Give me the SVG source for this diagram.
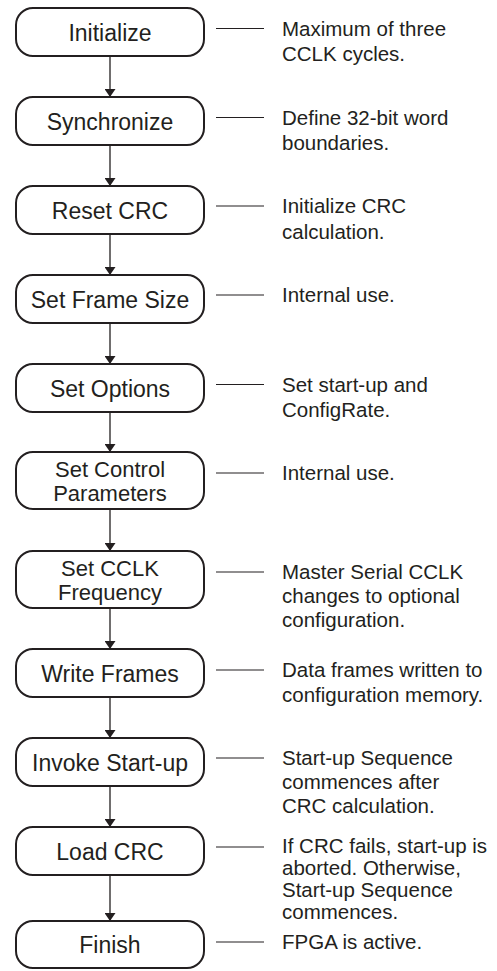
<svg xmlns="http://www.w3.org/2000/svg" width="497" height="971" viewBox="0 0 497 971">
<style>
.box{fill:#fff;stroke:#231f20;stroke-width:2}
.lbl{font-family:"Liberation Sans",Arial,sans-serif;font-size:23px;fill:#231f20;text-anchor:middle}
.lbl2{font-size:22px}
.note{font-family:"Liberation Sans",Arial,sans-serif;font-size:20.5px;fill:#231f20}
.flow{stroke:#231f20;stroke-width:1.3;fill:none}
.lead{stroke:#231f20;stroke-width:1.2;fill:none}
</style>
<defs>
<marker id="ah" viewBox="0 0 8 11" refX="8" refY="5.5" markerWidth="8" markerHeight="11" markerUnits="userSpaceOnUse" orient="auto-start-reverse">
<path d="M0,0 L8,5.5 L0,11 Z" fill="#231f20"/>
</marker>
</defs>
<rect width="497" height="971" fill="#fff"/>
<g id="connectors">
<line class="flow" x1="110" y1="56" x2="110" y2="97" marker-end="url(#ah)"/>
<line class="flow" x1="110" y1="145" x2="110" y2="186" marker-end="url(#ah)"/>
<line class="flow" x1="110" y1="234" x2="110" y2="275" marker-end="url(#ah)"/>
<line class="flow" x1="110" y1="323" x2="110" y2="364" marker-end="url(#ah)"/>
<line class="flow" x1="110" y1="412" x2="110" y2="452" marker-end="url(#ah)"/>
<line class="flow" x1="110" y1="509" x2="110" y2="551" marker-end="url(#ah)"/>
<line class="flow" x1="110" y1="608" x2="110" y2="649" marker-end="url(#ah)"/>
<line class="flow" x1="110" y1="697" x2="110" y2="738" marker-end="url(#ah)"/>
<line class="flow" x1="110" y1="786" x2="110" y2="827" marker-end="url(#ah)"/>
<line class="flow" x1="110" y1="875" x2="110" y2="921" marker-end="url(#ah)"/>
<line class="lead" x1="216" y1="28.5" x2="264" y2="28.5"/>
<line class="lead" x1="216" y1="117.5" x2="264" y2="117.5"/>
<line class="lead" x1="216" y1="206" x2="264" y2="206"/>
<line class="lead" x1="216" y1="295" x2="264" y2="295"/>
<line class="lead" x1="216" y1="384.5" x2="264" y2="384.5"/>
<line class="lead" x1="216" y1="473" x2="264" y2="473"/>
<line class="lead" x1="216" y1="572" x2="264" y2="572"/>
<line class="lead" x1="216" y1="670" x2="264" y2="670"/>
<line class="lead" x1="216" y1="758" x2="264" y2="758"/>
<line class="lead" x1="216" y1="847" x2="264" y2="847"/>
<line class="lead" x1="216" y1="942" x2="264" y2="942"/>
</g>
<g id="n1"><rect class="box" x="16" y="8" width="188" height="48" rx="17"/><text class="lbl" x="110" y="40.5">Initialize</text></g>
<g id="n2"><rect class="box" x="16" y="97" width="188" height="48" rx="17"/><text class="lbl" x="110" y="129.5">Synchronize</text></g>
<g id="n3"><rect class="box" x="16" y="186" width="188" height="48" rx="17"/><text class="lbl" x="110" y="218.5">Reset CRC</text></g>
<g id="n4"><rect class="box" x="16" y="275" width="188" height="48" rx="17"/><text class="lbl" x="110" y="307.5">Set Frame Size</text></g>
<g id="n5"><rect class="box" x="16" y="364" width="188" height="48" rx="17"/><text class="lbl" x="110" y="396.5">Set Options</text></g>
<g id="n6"><rect class="box" x="16" y="452" width="188" height="57" rx="17"/><text class="lbl lbl2" x="110" y="477">Set Control</text><text class="lbl lbl2" x="110" y="501">Parameters</text></g>
<g id="n7"><rect class="box" x="16" y="551" width="188" height="57" rx="17"/><text class="lbl lbl2" x="110" y="575.5">Set CCLK</text><text class="lbl lbl2" x="110" y="599.5">Frequency</text></g>
<g id="n8"><rect class="box" x="16" y="649" width="188" height="48" rx="17"/><text class="lbl" x="110" y="681.5">Write Frames</text></g>
<g id="n9"><rect class="box" x="16" y="738" width="188" height="48" rx="17"/><text class="lbl" x="110" y="770.5">Invoke Start-up</text></g>
<g id="n10"><rect class="box" x="16" y="827" width="188" height="48" rx="17"/><text class="lbl" x="110" y="859.5">Load CRC</text></g>
<g id="n11"><rect class="box" x="16" y="921" width="188" height="47" rx="17"/><text class="lbl" x="110" y="953">Finish</text></g>
<g id="notes">
<text class="note" x="282" y="35.5">Maximum of three</text>
<text class="note" x="282" y="61">CCLK cycles.</text>
<text class="note" x="282" y="124.5">Define 32-bit word</text>
<text class="note" x="282" y="150">boundaries.</text>
<text class="note" x="282" y="213">Initialize CRC</text>
<text class="note" x="282" y="238.5">calculation.</text>
<text class="note" x="282" y="302">Internal use.</text>
<text class="note" x="282" y="391.5">Set start-up and</text>
<text class="note" x="282" y="417">ConfigRate.</text>
<text class="note" x="282" y="480">Internal use.</text>
<text class="note" x="282" y="579">Master Serial CCLK</text>
<text class="note" x="282" y="603">changes to optional</text>
<text class="note" x="282" y="627">configuration.</text>
<text class="note" x="282" y="677">Data frames written to</text>
<text class="note" x="282" y="702">configuration memory.</text>
<text class="note" x="282" y="765">Start-up Sequence</text>
<text class="note" x="282" y="789">commences after</text>
<text class="note" x="282" y="813">CRC calculation.</text>
<text class="note" x="282" y="853">If CRC fails, start-up is</text>
<text class="note" x="282" y="875">aborted. Otherwise,</text>
<text class="note" x="282" y="897">Start-up Sequence</text>
<text class="note" x="282" y="919">commences.</text>
<text class="note" x="282" y="949">FPGA is active.</text>
</g>
</svg>
